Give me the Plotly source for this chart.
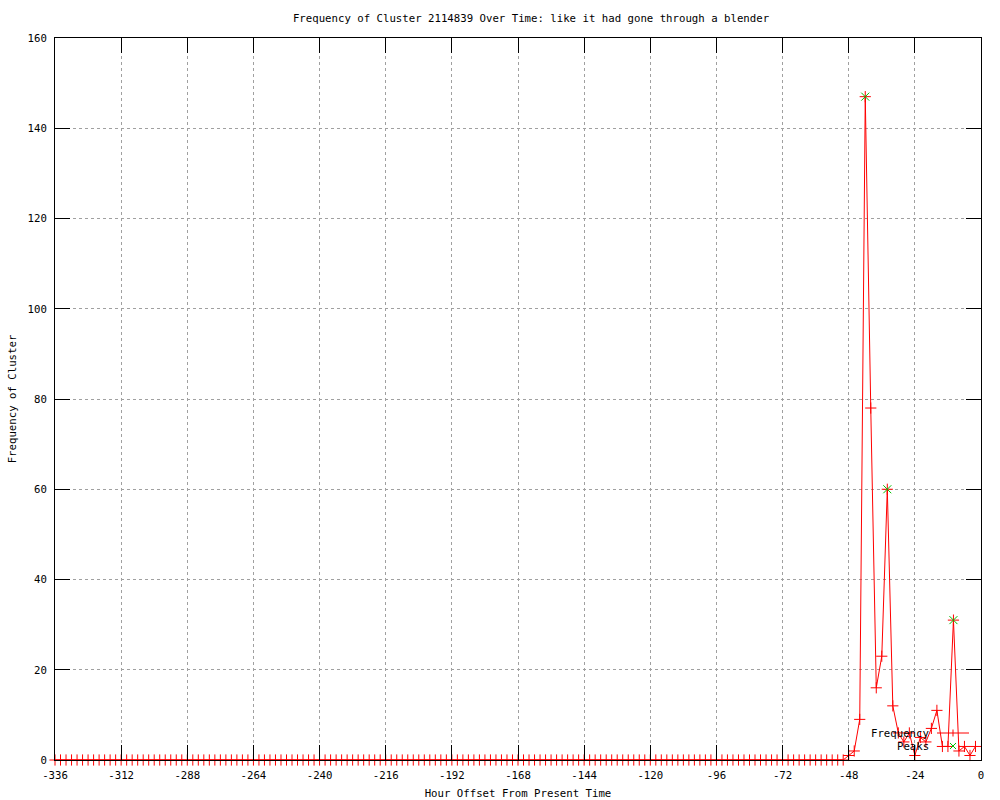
import plotly.graph_objects as go

# ---- data ----
hours = list(range(-336, -1, 2))  # hour offsets, one point every 2 hours
frequency = [
    0, 0, 0, 0, 0, 0, 0, 0, 0, 0, 0, 0, 0, 0, 0, 0, 0, 0, 0, 0, 0, 0, 0, 0,
    0, 0, 0, 0, 0, 0, 0, 0, 0, 0, 0, 0, 0, 0, 0, 0, 0, 0, 0, 0, 0, 0, 0, 0,
    0, 0, 0, 0, 0, 0, 0, 0, 0, 0, 0, 0, 0, 0, 0, 0, 0, 0, 0, 0, 0, 0, 0, 0,
    0, 0, 0, 0, 0, 0, 0, 0, 0, 0, 0, 0, 0, 0, 0, 0, 0, 0, 0, 0, 0, 0, 0, 0,
    0, 0, 0, 0, 0, 0, 0, 0, 0, 0, 0, 0, 0, 0, 0, 0, 0, 0, 0, 0, 0, 0, 0, 0,
    0, 0, 0, 0, 0, 0, 0, 0, 0, 0, 0, 0, 0, 0, 0, 0, 0, 0, 0, 0, 0, 0, 0, 0,
    1, 2, 9, 147, 78, 16, 23, 60, 12, 6, 4, 6,
    1, 5, 4, 7, 11, 3, 3, 31, 2, 3, 1, 3,
]
peak_hours = [-42, -34, -10]
peak_values = [147, 60, 31]

x_tick_vals = [-336, -312, -288, -264, -240, -216, -192, -168, -144, -120, -96, -72, -48, -24, 0]
x_tick_text = ["-336", "-312", "-288", "-264", "-240", "-216", "-192", "-168", "-144",
               "-120", "-96", "-72", "-48", "-24", "0"]
y_tick_vals = [0, 20, 40, 60, 80, 100, 120, 140, 160]

title_text = "Frequency of Cluster 2114839 Over Time: like it had gone through a blender"

# ---- layout geometry (pixels) ----
W, H = 1000, 800
L, R, T, B = 55, 19, 38, 40
PW, PH = W - L - R, H - T - B


def px(xp):
    return (xp - L) / PW


def py(yp):
    return (H - B - yp) / PH


FONT = dict(family="DejaVu Sans Mono", size=10.7, color="black")
RED = "#ff0000"
GREEN = "#00c000"

fig = go.Figure()
fig.add_trace(go.Scatter(
    x=hours, y=frequency, mode="lines+markers", name="Frequency",
    line=dict(color=RED, width=1),
    marker=dict(symbol="cross-thin", size=8, line=dict(color=RED, width=1), color=RED),
    cliponaxis=False, showlegend=False,
))
fig.add_trace(go.Scatter(
    x=peak_hours, y=peak_values, mode="markers", name="Peaks",
    marker=dict(symbol="x-thin", size=8, line=dict(color=GREEN, width=1), color=GREEN),
    cliponaxis=False, showlegend=False,
))

axis_common = dict(
    showline=True, linecolor="black", linewidth=1, mirror="ticks",
    ticks="inside", ticklen=15, tickcolor="black", tickwidth=1,
    showgrid=True, gridcolor="#a0a0a0", griddash="3px,3px", gridwidth=1,
    zeroline=False, tickfont=FONT, automargin=False,
)

fig.update_layout(
    width=W, height=H, autosize=False,
    margin=dict(l=L, r=R, t=T, b=B, pad=0),
    plot_bgcolor="white", paper_bgcolor="white",
    font=FONT,
    title=dict(text=title_text, x=0.531, xref="container", xanchor="center",
               y=1 - 18 / H, yref="container", yanchor="middle", font=FONT),
    xaxis=dict(range=[-336, 0], tickvals=x_tick_vals, ticktext=x_tick_text,
               ticklabelstandoff=5,
               title=dict(text="Hour Offset From Present Time", font=FONT, standoff=12),
               **axis_common),
    yaxis=dict(range=[0, 160], tickvals=y_tick_vals, ticklabelstandoff=5,
               title=dict(text="Frequency of Cluster", font=FONT, standoff=8),
               **axis_common),
)

# ---- gnuplot-style key (text left, sample right) ----
fig.add_annotation(text="Frequency", xref="paper", yref="paper", x=px(931), y=py(733),
                   xanchor="right", yanchor="middle", showarrow=False, font=FONT)
fig.add_annotation(text="Peaks", xref="paper", yref="paper", x=px(931), y=py(746),
                   xanchor="right", yanchor="middle", showarrow=False, font=FONT)
shapes = [
    dict(x0=px(937), x1=px(969), y0=py(733), y1=py(733), color=RED),
    dict(x0=px(953), x1=px(953), y0=py(729.5), y1=py(736.5), color=RED),
    dict(x0=px(950), x1=px(956), y0=py(743), y1=py(749), color=GREEN),
    dict(x0=px(950), x1=px(956), y0=py(749), y1=py(743), color=GREEN),
]
for s in shapes:
    fig.add_shape(type="line", xref="paper", yref="paper",
                  x0=s["x0"], x1=s["x1"], y0=s["y0"], y1=s["y1"],
                  line=dict(color=s["color"], width=1))

fig.write_html("out.html", config={"displayModeBar": False},
               post_script="document.body.style.margin='0px';document.body.style.padding='0px';")
